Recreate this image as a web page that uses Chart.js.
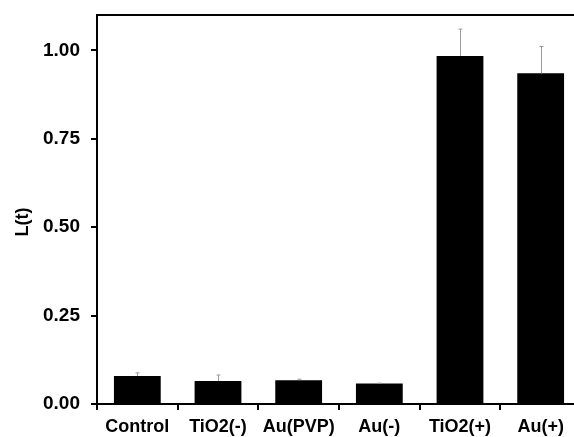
<!DOCTYPE html>
<html>
<head>
<meta charset="utf-8">
<script src="https://cdn.jsdelivr.net/npm/chart.js@4.4.1/dist/chart.umd.min.js"></script>
<style>
  html, body { margin: 0; padding: 0; background: #fff; overflow: hidden; }
  #wrap { width: 581px; height: 437px; }
</style>
</head>
<body>
<div id="wrap"><canvas id="chart" width="581" height="437"></canvas></div>
<script>
const categories = ["Control", "TiO2(-)", "Au(PVP)", "Au(-)", "TiO2(+)", "Au(+)"];
const values = [0.079, 0.065, 0.067, 0.058, 0.984, 0.935];
const errors = [0.009, 0.017, 0.003, 0.001, 0.076, 0.076];
const yTicks = [0, 0.25, 0.5, 0.75, 1.0];

const family = "'Liberation Sans', Arial, sans-serif";
const font = { family: family, size: 18, weight: "bold" };
const yFont = { family: family, size: 19, weight: "bold" };

// upper-only error bars, gray, small cap
const errorBars = {
  id: "errorBars",
  afterDatasetsDraw(chart) {
    const ctx = chart.ctx;
    const y = chart.scales.y;
    const meta = chart.getDatasetMeta(0);
    ctx.save();
    ctx.strokeStyle = "#9a9a9a";
    ctx.lineWidth = 1;
    meta.data.forEach((bar, i) => {
      const top = y.getPixelForValue(values[i] + errors[i]);
      const x = Math.round(bar.x) + 0.5;
      ctx.beginPath();
      ctx.moveTo(x, bar.y);
      ctx.lineTo(x, top);
      ctx.moveTo(x - 2, top);
      ctx.lineTo(x + 2, top);
      ctx.stroke();
    });
    ctx.restore();
  }
};

// top frame line
const topLine = {
  id: "topLine",
  afterDraw(chart) {
    const { ctx, chartArea } = chart;
    ctx.save();
    ctx.strokeStyle = "#000";
    ctx.lineWidth = 2;
    ctx.beginPath();
    ctx.moveTo(chartArea.left - 1, chartArea.top);
    ctx.lineTo(chartArea.right + 10, chartArea.top);
    ctx.stroke();
    ctx.restore();
  }
};

new Chart(document.getElementById("chart"), {
  type: "bar",
  data: {
    labels: categories,
    datasets: [{
      data: values,
      backgroundColor: "#000",
      borderColor: "#000",
      borderWidth: 0,
      categoryPercentage: 1,
      barPercentage: 0.58,
    }],
  },
  plugins: [errorBars, topLine],
  options: {
    responsive: false,
    animation: false,
    layout: { padding: { top: 15, left: 0, right: 0, bottom: 0 } },
    plugins: { legend: { display: false }, tooltip: { enabled: false } },
    scales: {
      x: {
        offset: true,
        grid: { offset: true, drawOnChartArea: false, color: "#000", lineWidth: 2, tickLength: 6 },
        border: { color: "#000", width: 2 },
        ticks: { color: "#000", font: font, padding: 6, maxRotation: 0, autoSkip: false },
        afterFit(scale) { scale.height = 33; scale.paddingLeft = 0; scale.paddingRight = 0; },
      },
      y: {
        min: 0,
        max: 1.1,
        afterBuildTicks(scale) { scale.ticks = yTicks.map(v => ({ value: v })); },
        grid: { drawOnChartArea: false, color: "#000", lineWidth: 2, tickLength: 6 },
        border: { color: "#000", width: 2 },
        ticks: {
          color: "#000", font: yFont, padding: 11,
          callback: v => Number(v).toFixed(2),
        },
        // trailing spaces nudge the rotated title a little lower, like the original
        title: { display: true, text: "L(t)     ", color: "#000", font: font, padding: { top: 12, bottom: 0 } },
        afterFit(scale) { scale.width = 97; scale.paddingTop = 0; scale.paddingBottom = 0; },
      },
    },
  },
});
</script>
</body>
</html>
